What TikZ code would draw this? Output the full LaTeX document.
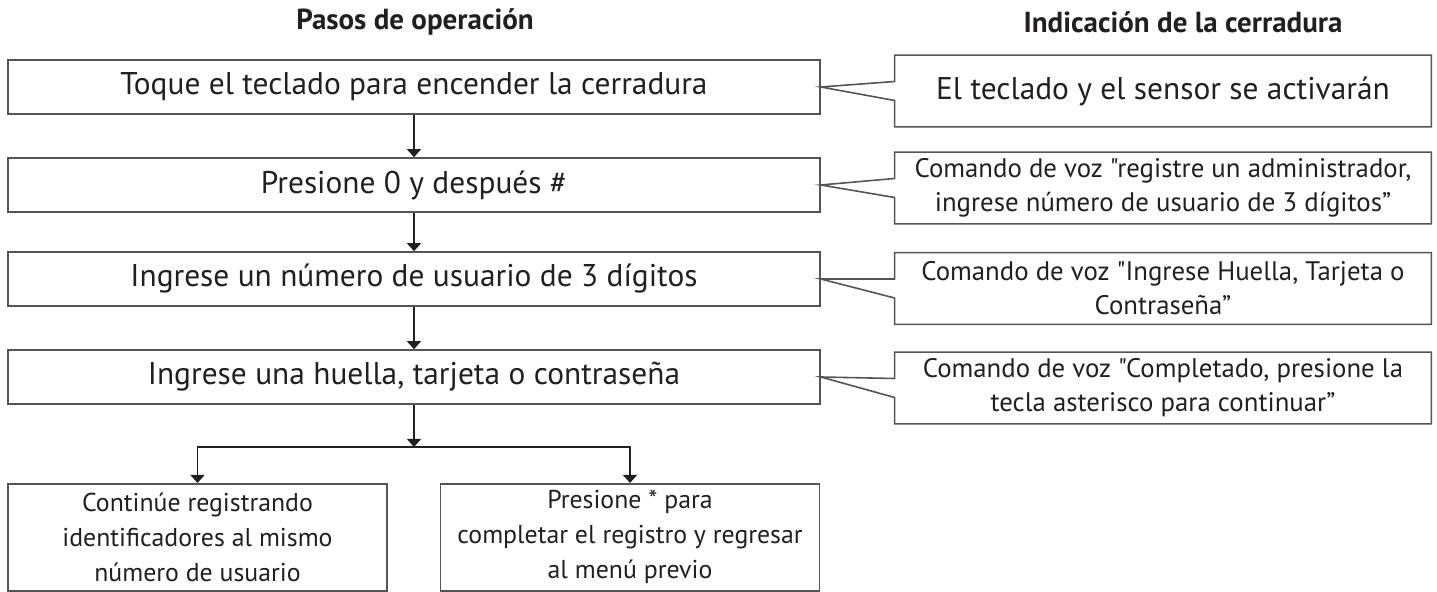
\documentclass[tikz,border=0pt]{standalone}
\usepackage{fontspec}
\setmainfont{PT Sans}[Ligatures=TeXOff]
\usepackage{tikz}
\usetikzlibrary{calc,arrows.meta}
\definecolor{tinta}{HTML}{231F20}
\definecolor{borde}{HTML}{555555}
\tikzset{
  linea/.style={line width=0.8pt, draw=borde},
  flecha/.style={line width=0.7pt, draw=tinta, -{Triangle[width=7pt,length=4pt]}},
  paso/.style={linea, minimum width=406pt, minimum height=27pt, inner sep=0pt,
    text=tinta, font=\fontsize{15.7}{18}\selectfont},
  indic/.style={minimum width=268pt, minimum height=35.5pt, inner sep=0pt,
    text=tinta, align=center, font=\fontsize{13.4}{17}\selectfont},
  opcion/.style={linea, minimum width=189.5pt, minimum height=53.5pt, inner sep=0pt,
    text=tinta, align=center, anchor=north, font=\fontsize{12.9}{17.5}\selectfont},
  titulo/.style={text=tinta, font=\bfseries\fontsize{14.5}{17}\selectfont},
}

\begin{document}
\begin{tikzpicture}[x=0.5pt,y=-0.5pt]
  \useasboundingbox (0,0) rectangle (1437,592);

  % titles
  \node[titulo] (tpasos) at (415,22) {Pasos de operación};
  \node[titulo] (tindic) at (1183,22) {Indicación de la cerradura};

  % operation steps
  \node[paso] (paso1) at (414,87)  {Toque el teclado para encender la cerradura};
  \node[paso] (paso2) at (414,185) {Presione 0 y después \#};
  \node[paso] (paso3) at (414,279) {Ingrese un número de usuario de 3 dígitos};
  \node[paso] (paso4) at (414,377) {Ingrese una huella, tarjeta o contraseña};

  % lock indications
  \node[indic, font=\fontsize{15.7}{18}\selectfont] (ind1) at (1163,91)
    {El teclado y el sensor se activarán};
  \node[indic] (ind2) at (1163,188)
    {Comando de voz "registre un administrador,\\ingrese número de usuario de 3 dígitos”};
  \node[indic] (ind3) at (1163,288.5)
    {Comando de voz "Ingrese Huella, Tarjeta o\\Contraseña”};
  \node[indic] (ind4) at (1163,388)
    {Comando de voz "Completado, presione la\\tecla asterisco para continuar”};

  % the two choices
  \coordinate (rama) at (414,447); % branch point
  \node[opcion] (opA) at (197.5,483)
    {Continúe registrando\\identificadores al mismo\\número de usuario};
  \node[opcion] (opB) at (630,483)
    {Presione * para\\completar el registro y regresar\\al menú previo};

  % callouts with pointer
  \foreach \i in {1,...,4} {
    \draw[linea] (ind\i.north west) -- (ind\i.north east) -- (ind\i.south east)
      -- (ind\i.south west) -- ($(ind\i.west)+(0,9.5)$) -- (paso\i.east)
      -- ($(ind\i.west)+(0,-9.5)$) -- cycle;
  }

  \draw[flecha] (paso1) -- (paso2);
  \draw[flecha] (paso2) -- (paso3);
  \draw[flecha] (paso3) -- (paso4);
  \draw[flecha] (paso4) -- (rama);
  \draw[flecha] (rama) -| (opA.north);
  \draw[flecha] (rama) -| (opB.north);
\end{tikzpicture}
\end{document}
